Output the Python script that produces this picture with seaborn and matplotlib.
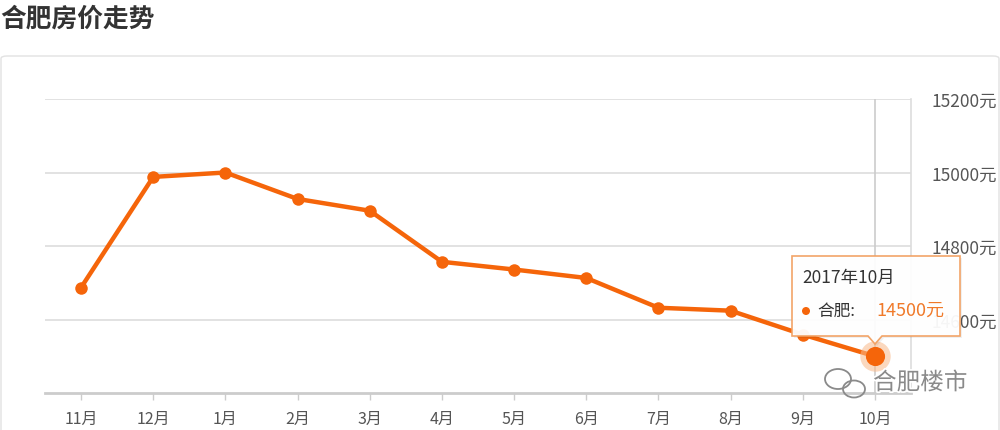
import numpy as np
import pandas as pd
import matplotlib
matplotlib.use("Agg")
import matplotlib.pyplot as plt
import seaborn as sns
from matplotlib.patches import FancyBboxPatch, Polygon, Ellipse
import matplotlib.patheffects as pe

months = ['11月', '12月', '1月', '2月', '3月', '4月', '5月', '6月', '7月', '8月', '9月', '10月']
prices = [14687, 14988, 15000, 14928, 14896, 14757, 14736, 14713, 14632, 14624, 14559, 14500]
y_ticks = [14600, 14800, 15000, 15200]
tip_title = '2017年10月'
tip_city = '合肥:'
title = '合肥房价走势'
watermark = '合肥楼市'

ORANGE = '#f5650a'

sns.set_theme(style='white')
plt.rcParams['font.family'] = ['Noto Sans CJK SC', 'DejaVu Sans']

df = pd.DataFrame({'pos': np.arange(len(months)), 'price': prices, 'month': months})

W, H = 1000, 431
fig = plt.figure(figsize=(W / 100, H / 100), dpi=100)


def fx(x):
    return x / W


def fy(y):
    return 1 - y / H


# panel frame
panel = FancyBboxPatch((fx(1), fy(440)), fx(998), (440 - 57) / H,
                       boxstyle='round,pad=0,rounding_size=0.006',
                       transform=fig.transFigure, facecolor='white',
                       edgecolor='#e2e2e2', linewidth=1.0, zorder=-5)
fig.patches.append(panel)

fig.text(fx(0), fy(19), title, fontsize=18.5, fontweight='bold', color='#333333',
         ha='left', va='center')

ax = fig.add_axes([fx(45), fy(394), fx(911 - 45), (394 - 100) / H])
ax.set_facecolor('none')
ax.set_zorder(1)

sns.lineplot(data=df, x='pos', y='price', ax=ax, color=ORANGE, linewidth=3.2,
             marker='o', markersize=9, markeredgewidth=0, zorder=5)

# hovered last point
last = df.iloc[-1]
ax.scatter([last['pos']], [last['price']], s=480, color='#f9b98a', alpha=0.55,
           linewidths=0, zorder=6)
ax.scatter([last['pos']], [last['price']], s=190, color=ORANGE, linewidths=0, zorder=7)

ax.set_xlim(-0.5, len(months) - 0.5)
ax.set_ylim(14400, 15200)
ax.set_xticks(df['pos'])
ax.set_xticklabels(months, fontsize=11.5, color='#555555')
ax.yaxis.tick_right()
ax.set_yticks(y_ticks)
ax.set_yticklabels([f'{v}元' for v in y_ticks], fontsize=12.5, color='#555555')
ax.tick_params(axis='y', length=0, pad=15)
ax.tick_params(axis='x', length=5, width=1, color='#cccccc', pad=7, direction='out',
               bottom=True)
ax.set_xlabel('')
ax.set_ylabel('')

for v in y_ticks:
    ax.axhline(v, color='#dddddd', linewidth=1.2, zorder=1)
# crosshair at hovered month
ax.axvline(last['pos'], color='#cccccc', linewidth=1.2, zorder=1)

for side in ['left', 'top']:
    ax.spines[side].set_visible(False)
ax.spines['right'].set_color('#dddddd')
ax.spines['right'].set_linewidth(1.2)
ax.spines['bottom'].set_color('#cccccc')
ax.spines['bottom'].set_linewidth(2)

# tooltip
tip_pts = [(792, 257), (960, 257), (960, 337), (882, 337), (875, 345),
           (868, 337), (792, 337)]
shadow = Polygon([(fx(x + 2), fy(y + 2)) for x, y in tip_pts], closed=True,
                 transform=fig.transFigure, facecolor='#000000', alpha=0.06,
                 edgecolor='none', zorder=9)
tip = Polygon([(fx(x), fy(y)) for x, y in tip_pts], closed=True,
              transform=fig.transFigure, facecolor='white', alpha=0.95,
              edgecolor='#f2a060', linewidth=1.2, zorder=10)
fig.patches.append(shadow)
fig.patches.append(tip)
fig.text(fx(802), fy(278), tip_title, fontsize=12.5, color='#333333',
         ha='left', va='center', zorder=11)
fig.patches.append(Ellipse((fx(806), fy(312)), 8 / W, 8 / H, transform=fig.transFigure,
                           facecolor=ORANGE, edgecolor='none', zorder=11))
fig.text(fx(817), fy(311), tip_city, fontsize=12, color='#333333',
         ha='left', va='center', zorder=11)
fig.text(fx(876), fy(311), f'{int(last["price"])}元', fontsize=13, color='#f07a2a',
         ha='left', va='center', zorder=11)

# watermark
for cx, cy, w, h in [(838, 380, 26, 20), (854, 390, 22, 17)]:
    fig.patches.append(Ellipse((fx(cx), fy(cy)), w / W, h / H,
                               transform=fig.transFigure, facecolor='none',
                               edgecolor='#8a8a8a', linewidth=1.3, zorder=12))
fig.text(fx(873), fy(384), watermark, fontsize=17, color='#8a8a8a',
         ha='left', va='center', zorder=12,
         path_effects=[pe.withStroke(linewidth=2.5, foreground='white')])

fig.savefig('out.png', dpi=100)
